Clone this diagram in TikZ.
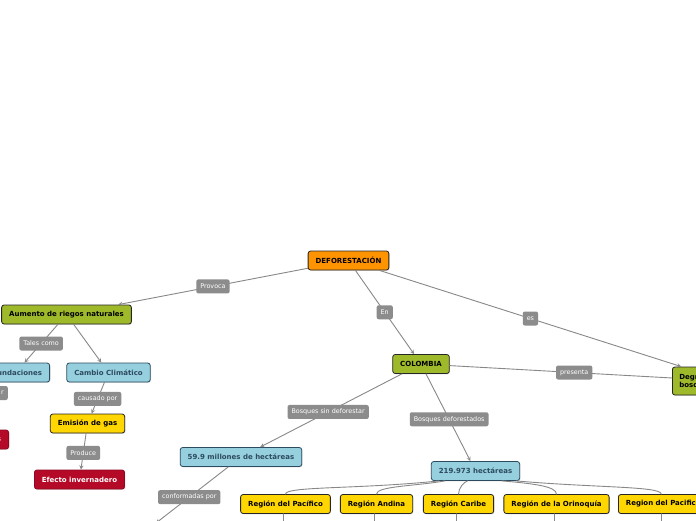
\documentclass[tikz,border=0pt]{standalone}
\usepackage{fontspec}
\setmainfont{DejaVu Sans}
\usetikzlibrary{shadows}
\definecolor{naranja}{RGB}{255,147,0}
\definecolor{oliva}{RGB}{158,185,42}
\definecolor{celeste}{RGB}{150,207,222}
\definecolor{amarillo}{RGB}{255,214,0}
\definecolor{rojo}{RGB}{180,10,40}
\definecolor{gris}{RGB}{140,140,140}
\definecolor{linea}{RGB}{136,136,136}
\definecolor{azuloscuro}{RGB}{45,75,95}
\begin{document}
\begin{tikzpicture}[x=1pt, y=1pt, line join=round, line cap=round, >=stealth,
  caja/.style={draw=black!85, rounded corners=2.5pt, line width=0.8pt, minimum height=19pt,
    inner xsep=7.5pt, font=\bfseries\fontsize{7}{8}\selectfont,
    drop shadow={opacity=0.25, shadow xshift=0.8pt, shadow yshift=-0.8pt}},
  central/.style={caja, fill=naranja},
  verde/.style={caja, fill=oliva},
  azul/.style={caja, fill=celeste, draw=azuloscuro, text=azuloscuro},
  amar/.style={caja, fill=amarillo},
  roja/.style={caja, fill=rojo, draw=rojo!80!black, text=white},
  etiqueta/.style={fill=gris, text=white, rounded corners=2pt, minimum height=14pt,
    inner xsep=4pt, inner ysep=2pt, font=\fontsize{6.4}{7.4}\selectfont},
  conector/.style={draw=linea, line width=0.9pt}]
  \def\ancho{696}
  \def\alto{520}
  \fill[white] (0,-\alto) rectangle (\ancho,0);
  \useasboundingbox (0,-\alto) rectangle (\ancho,0);
  \clip (0,-\alto) rectangle (\ancho,0);

  % nodos
  \node[central] (deforest) at (348.5,-260.5) {DEFORESTACIÓN};
  \node[verde] (aumento) at (66.5,-314.5) {Aumento de riegos naturales};
  \node[azul, anchor=east] (inund) at (50,-372.5) {Inundaciones};
  \node[azul] (cambio) at (108.5,-372.5) {Cambio Climático};
  \node[amar] (emision) at (87.5,-423.5) {Emisión de gas};
  \node[roja] (efecto) at (79.5,-479.5) {Efecto invernadero};
  \node[etiqueta, anchor=east, text width=50pt, align=right] (etiqr) at (8,-393) {r};
  \node[roja, anchor=east, text width=50pt, align=right] (perdida) at (9,-439.5) {s};
  \node[verde] (colombia) at (421,-364) {COLOMBIA};
  \node[verde, anchor=west, minimum width=108pt, minimum height=28pt, text width=94pt,
    align=left, inner xsep=7pt] (degrad) at (672,-381) {Degradación de\\bosques};
  \node[azul] (millones) at (241,-457) {59.9 millones de hectáreas};
  \node[azul] (hect) at (475.5,-471) {219.973 hectáreas};
  \node[amar] (rpacifico) at (285.5,-504) {Región del Pacífico};
  \node[amar] (randina) at (376.5,-504) {Región Andina};
  \node[amar] (rcaribe) at (458.5,-504) {Región Caribe};
  \node[amar] (rorinoquia) at (556.5,-504) {Región de la Orinoquía};
  \node[amar, anchor=west] (rpacifico2) at (618,-504) {Region del Pacifico};
  \coordinate (conf) at (156,-523);

  % conectores
  \draw[conector, ->] (deforest) -- node[etiqueta]{Provoca} (aumento);
  \draw[conector, ->] (deforest) -- node[etiqueta]{En} (colombia);
  \draw[conector, ->] (deforest) -- node[etiqueta]{es} (degrad);
  \draw[conector] (colombia) -- node[etiqueta, pos=0.56]{presenta} (degrad);
  \draw[conector, ->] (aumento) -- node[etiqueta]{Tales como} (inund);
  \draw[conector, ->] (aumento) -- (cambio);
  \draw[conector] (inund) -- (etiqr);
  \draw[conector, ->] (etiqr) -- (perdida);
  \draw[conector, ->] (cambio) -- node[etiqueta, pos=0.53]{causado por} (emision);
  \draw[conector, ->] (emision) -- node[etiqueta, pos=0.54]{Produce} (efecto);
  \draw[conector, ->] (colombia) -- node[etiqueta, pos=0.52]{Bosques sin deforestar} (millones);
  \draw[conector, ->] (colombia) -- node[etiqueta, pos=0.52]{Bosques deforestados} (hect);
  \draw[conector, ->] (millones) -- node[etiqueta, pos=0.54]{conformadas por} (conf);

  % ramas de regiones
  \draw[conector] ([xshift=8pt]hect.south west) to[out=186, in=90, out distance=80pt, in distance=8pt] (rpacifico.north);
  \draw[conector] ([xshift=14pt]hect.south west) to[out=190, in=90, out distance=30pt, in distance=8pt] (randina.north);
  \draw[conector] ([xshift=-8pt]hect.south) to[out=200, in=90, out distance=4pt, in distance=6pt] (rcaribe.north);
  \draw[conector] ([xshift=-18pt]hect.south east) to[out=-5, in=90, out distance=30pt, in distance=8pt] (rorinoquia.north);
  \draw[conector] ([xshift=-4pt]hect.south east) to[out=-5, in=90, out distance=80pt, in distance=8pt] ([xshift=-2pt]rpacifico2.north);
  \foreach \r in {rpacifico, randina, rcaribe, rorinoquia, rpacifico2}
    \draw[conector] ([xshift=-2pt]\r.south) -- ++(0,-12);
\end{tikzpicture}
\end{document}
